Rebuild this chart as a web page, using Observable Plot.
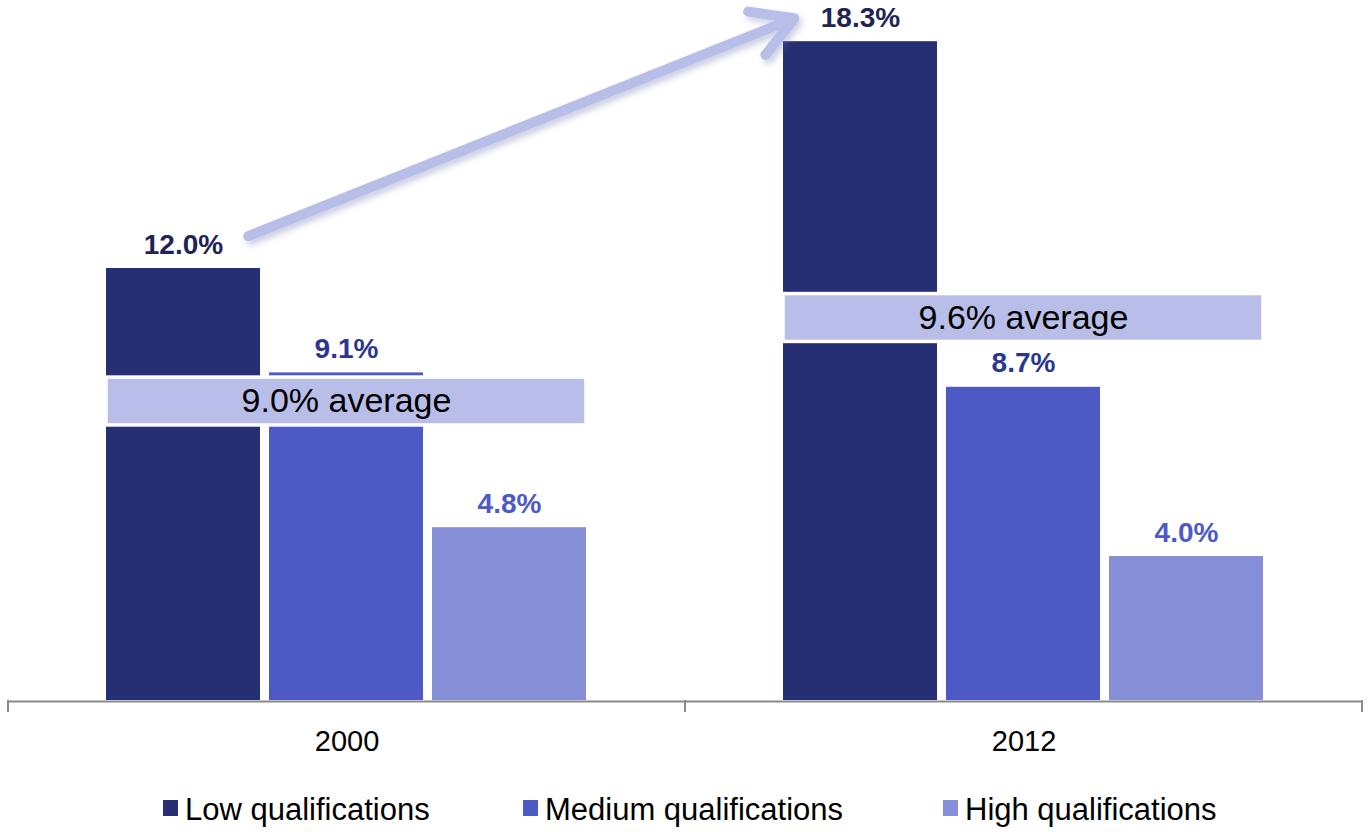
<!DOCTYPE html>
<html><head><meta charset="utf-8">
<script src="https://cdn.jsdelivr.net/npm/d3@7"></script>
<script src="https://cdn.jsdelivr.net/npm/@observablehq/plot@0.6"></script>
<style>
body{margin:0;background:#fff;font-family:"Liberation Sans",Arial,sans-serif;}
#legend{position:relative;height:72px;width:1368px;font-size:31px;line-height:31px;color:#000}
.sw{position:absolute;top:40px;width:15px;height:16px}
.lbl{position:absolute;top:34px;white-space:nowrap}
</style></head><body>
<div id="chart"></div>
<div id="legend"></div>
<script>
const years = ["2000", "2012"];
const categories = ["Low", "Medium", "High"];
const legendLabels = ["Low qualifications", "Medium qualifications", "High qualifications"];
const low = [12.0, 18.3];
const medium = [9.1, 8.7];
const high = [4.8, 4.0];
const averages = [9.0, 9.6];
const avgBandTop = [8.97, 11.29];
const avgBandBottom = [7.64, 9.96];
const barColors = ["#262E74", "#4D5AC6", "#858ED6"];
const labelColors = ["#1E2454", "#2B3690", "#4D5AC6"];
const bandColor = "#B8BEE8";
const arrowFrom = {year: "2000", cat: "Low", pos: 0.92, value: 12.9};
const arrowTo = {year: "2012", cat: "Low", pos: 0.07, value: 18.95};
const legendLeft = [163, 523, 943];

const series = [low, medium, high];
const rows = years.flatMap((y, i) => categories.map((c, j) => ({year: y, cat: c, value: series[j][i]})));
const avgRows = years.map((y, i) => ({year: y, avg: averages[i], top: avgBandTop[i], bottom: avgBandBottom[i]}));

const edgeTicks = Plot.ruleX(years.map(y => ({year: y})), {
  fx: "year", x: () => categories[0],
  render(index, scales) {
    const [r0, r1] = scales.x.range();
    const y0 = scales.y(0);
    const g = d3.create("svg:g");
    for (const i of index) {
      const xs = [r0];
      if (i === years.length - 1) xs.push(r1);
      for (const x of xs) g.append("line").attr("x1", x).attr("x2", x).attr("y1", y0).attr("y2", y0 + 12)
        .attr("stroke", "#8a8a8a").attr("stroke-width", 2);
    }
    return g.node();
  }
});

const arrow = Plot.arrow([arrowFrom], {
  fx: () => arrowFrom.year,
  x1: () => arrowFrom.cat, x2: () => arrowTo.cat,
  y1: () => arrowFrom.value, y2: () => arrowTo.value,
  stroke: bandColor, strokeWidth: 10, headLength: 7, headAngle: 60,
  strokeLinecap: "round", strokeLinejoin: "round",
  render(index, scales, values, dims, context, next) {
    const bw = scales.x.bandwidth();
    const [r0, r1] = scales.x.range();
    const shift = scales.fx ? scales.fx(arrowTo.year) - scales.fx(arrowFrom.year) : (r1 - r0);
    // the scale function returns band centres
    const x1 = scales.x(arrowFrom.cat) - bw / 2 + arrowFrom.pos * bw;
    const x2 = scales.x(arrowTo.cat) - bw / 2 + arrowTo.pos * bw + shift;
    const inner = next(index, scales, {...values, x1: [x1], x2: [x2]}, dims, context);
    const outer = d3.create("svg:g");
    const f = outer.append("defs").append("filter").attr("id", "arrowShadow")
      .attr("x", "-10%").attr("y", "-30%").attr("width", "120%").attr("height", "160%");
    f.append("feDropShadow").attr("dx", 3).attr("dy", 4).attr("stdDeviation", 3)
      .attr("flood-color", "#6a72b0").attr("flood-opacity", 0.35);
    inner.setAttribute("filter", "url(#arrowShadow)");
    outer.node().appendChild(inner);
    return outer.node();
  }
});

const chart = Plot.plot({
  width: 1368, height: 760,
  marginLeft: 8, marginRight: 6, marginTop: 16, marginBottom: 60,
  style: {fontFamily: '"Liberation Sans", Arial, sans-serif', fontSize: "29px", color: "#000", background: "#fff"},
  fx: {domain: years, padding: 0, label: null},
  x: {domain: categories, paddingInner: 0.055, paddingOuter: 0.6, axis: null},
  y: {domain: [0, 19], axis: null},
  color: {domain: categories, range: barColors},
  marks: [
    Plot.barY(rows, {fx: "year", x: "cat", y: "value", fill: "cat"}),
    Plot.ruleY([0], {stroke: "#8a8a8a", strokeWidth: 2, dy: 1}),
    edgeTicks,
    Plot.rect(avgRows, {fx: "year", x1: () => categories[0], x2: () => categories[2], y1: "bottom", y2: "top",
      fill: bandColor, stroke: "white", strokeWidth: 3.5}),
    Plot.text(avgRows, {fx: "year", x: () => categories[1], y: d => (d.top + d.bottom) / 2,
      text: d => `${d.avg.toFixed(1)}% average`, fontSize: 34, fill: "#000"}),
    ...categories.map((c, j) => Plot.text(rows.filter(r => r.cat === c), {
      fx: "year", x: "cat", y: "value", text: d => d.value.toFixed(1) + "%",
      dy: -15, lineAnchor: "bottom", fill: labelColors[j], fontWeight: "bold", fontSize: 28})),
    arrow,
    Plot.axisFx({anchor: "bottom", tickSize: 0, tickPadding: 30, label: null, fontSize: 29})
  ]
});
document.getElementById("chart").appendChild(chart);

const legend = d3.select("#legend");
categories.forEach((c, j) => {
  legend.append("span").attr("class", "sw").style("left", legendLeft[j] + "px").style("background", barColors[j]);
  legend.append("span").attr("class", "lbl").style("left", (legendLeft[j] + 22) + "px").text(legendLabels[j]);
});
</script>
</body></html>
